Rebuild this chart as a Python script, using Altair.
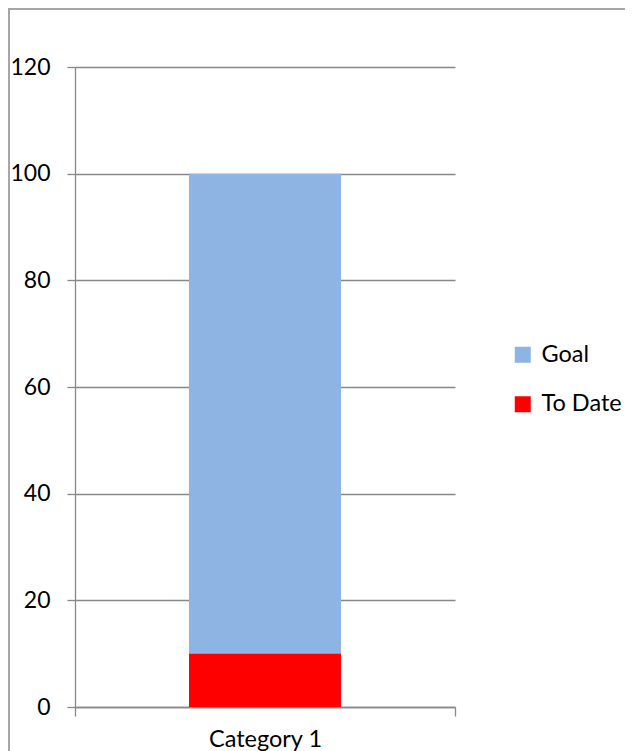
import altair as alt
import pandas as pd

# ---- data ----
categories = ["Category 1", "Category 1"]
series = ["Goal", "To Date"]
values = [100, 10]
draw_order = [0, 1]
colors = ["#8EB4E3", "#FF0000"]
y_ticks = [0, 20, 40, 60, 80, 100, 120]

df = pd.DataFrame({"category": categories, "series": series,
                   "value": values, "order": draw_order})

FONT = "Lato"
GRAY = "#888888"
W, H = 380, 640
PL, PT, PR, PB = 67, 59, 170, 44

bars = alt.Chart(df).mark_bar(width={"band": 0.4}).encode(
    x=alt.X("category:N", title=None,
            scale=alt.Scale(paddingInner=0, paddingOuter=0),
            axis=alt.Axis(labelAngle=0, tickBand="extent", domainColor=GRAY,
                          domainWidth=1.3, tickColor=GRAY, tickWidth=1.3,
                          tickSize=9, labelFont=FONT, labelFontSize=23.5,
                          labelColor="black", labelPadding=11, grid=False)),
    y=alt.Y("value:Q", stack=None, title=None,
            scale=alt.Scale(domain=[0, 120], nice=False),
            axis=alt.Axis(values=y_ticks, grid=True, gridColor=GRAY,
                          gridWidth=1.3, domainColor=GRAY, domainWidth=1.3,
                          tickColor=GRAY, tickWidth=1.3, tickSize=8,
                          labelFont=FONT, labelFontSize=23, labelColor="black",
                          labelPadding=17)),
    color=alt.Color("series:N",
                    scale=alt.Scale(domain=series, range=colors),
                    legend=alt.Legend(title=None, orient="none", legendX=436,
                                      legendY=276, symbolType="square",
                                      symbolSize=256, symbolStrokeWidth=0,
                                      labelFont=FONT, labelFontSize=23.5,
                                      labelColor="black", labelOffset=7,
                                      rowPadding=24.5, padding=0)),
    order=alt.Order("order:Q"),
)

border_src = pd.DataFrame({"k": [0]})
left_border = alt.Chart(border_src).mark_rule(color="#A6A6A6", strokeWidth=2).encode(
    x=alt.value(-PL + 1), y=alt.value(-PT), y2=alt.value(H + PB))
top_border = alt.Chart(border_src).mark_rule(color="#A6A6A6", strokeWidth=2).encode(
    y=alt.value(-PT + 1), x=alt.value(-PL), x2=alt.value(W + PR))

chart = alt.layer(bars, left_border, top_border).properties(
    width=W, height=H,
    padding={"left": PL, "top": PT, "right": PR, "bottom": PB},
    autosize=alt.AutoSizeParams(type="none"),
    background="white",
).configure_view(stroke=None)

chart.save("out.html", embed_options={"renderer": "svg", "actions": False})
